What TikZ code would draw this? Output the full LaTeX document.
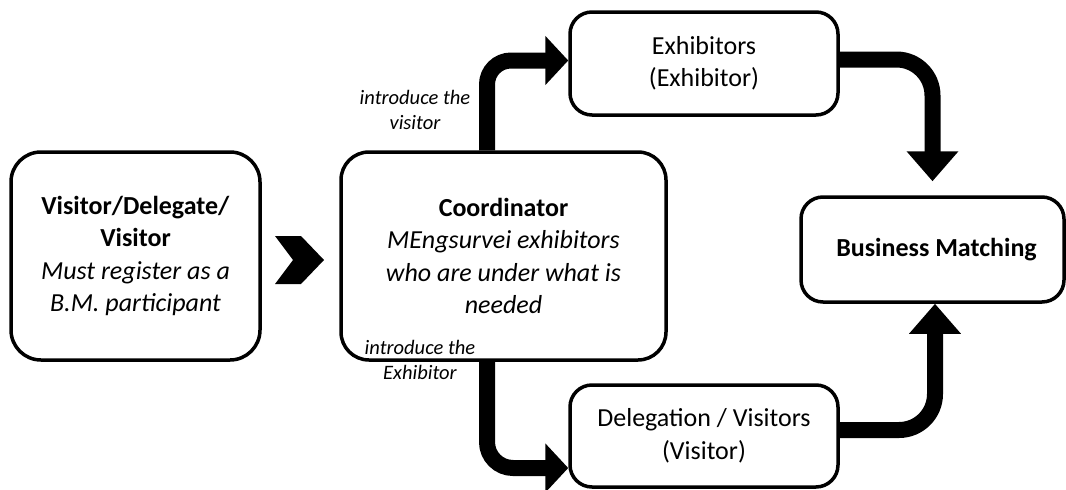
\documentclass[tikz,border=0pt]{standalone}
\usepackage{fontspec}
\setmainfont{Carlito}
\usetikzlibrary{arrows.meta,calc}
\begin{document}
\begin{tikzpicture}[x=1pt,y=-1pt,
  box/.style={draw=black, line width=3.5pt, rounded corners=#1, align=center, inner sep=0pt, fill=white},
  box/.default=24pt,
  txt/.style={font=\fontsize{26}{32.5}\selectfont},
  bigline/.style={line width=16pt, draw=black},
  hhead/.style={-{Triangle[length=23pt,width=48pt]}},
  vhead/.style={-{Triangle[length=30pt,width=50pt]}},
  lbl/.style={font=\fontsize{20.5}{25}\selectfont\itshape, align=center, inner sep=0pt}]
\useasboundingbox (0,0) rectangle (1066,490);

\node[box=30pt, txt, minimum width=249pt, minimum height=208pt] (vis) at (135.5,256)
  {\textbf{Visitor/Delegate/}\\\textbf{Visitor}\\\textit{Must register as a}\\\textit{B.M. participant}};
\node[box=28pt, txt, minimum width=325pt, minimum height=208pt] (coord) at (503.5,256)
  {\textbf{Coordinator}\\\textit{MEngsurvei exhibitors}\\\textit{who are under what is}\\\textit{needed}};
\node[box=22pt, txt, minimum width=268pt, minimum height=103pt] (exh) at (704,63.5)
  {Exhibitors\\(Exhibitor)};
\node[box=22pt, txt, minimum width=268pt, minimum height=102pt] (deleg) at (704,436)
  {Delegation / Visitors\\(Visitor)};
\node[box=22pt, txt, minimum width=263pt, minimum height=105pt] (bm) at (932.5,249.5)
  {\hspace*{8pt}\textbf{Business Matching}};

% chevron
\coordinate (ch) at ($(vis.east)!0.5!(coord.west)+(0,4)$);
\fill[black] ($(ch)+(-25.5,-24)$) -- ($(ch)+(0.5,-24)$) -- ($(ch)+(23.5,0)$)
  -- ($(ch)+(0.5,24)$) -- ($(ch)+(-25.5,24)$) -- ($(ch)+(-7.5,0)$) -- cycle;

% arrows
\draw[bigline, hhead, rounded corners=24pt]
  ([xshift=-16.5pt]coord.north) |- ([yshift=3pt]exh.west);
\draw[bigline, hhead, rounded corners=26pt]
  ([xshift=-16.5pt]coord.south) |- ([yshift=-32pt]deleg.west);
\draw[bigline, vhead, rounded corners=36pt]
  ([yshift=4pt]exh.east) -| ([yshift=14pt]bm.north);
\draw[bigline, vhead, rounded corners=36pt]
  ([yshift=6pt]deleg.east) -| ([xshift=2.5pt]bm.south);

% labels
\node[lbl] (l1) at (415,110) {introduce the\\visitor};
\node[lbl] (l2) at (420,360) {introduce the\\Exhibitor};
\end{tikzpicture}
\end{document}
